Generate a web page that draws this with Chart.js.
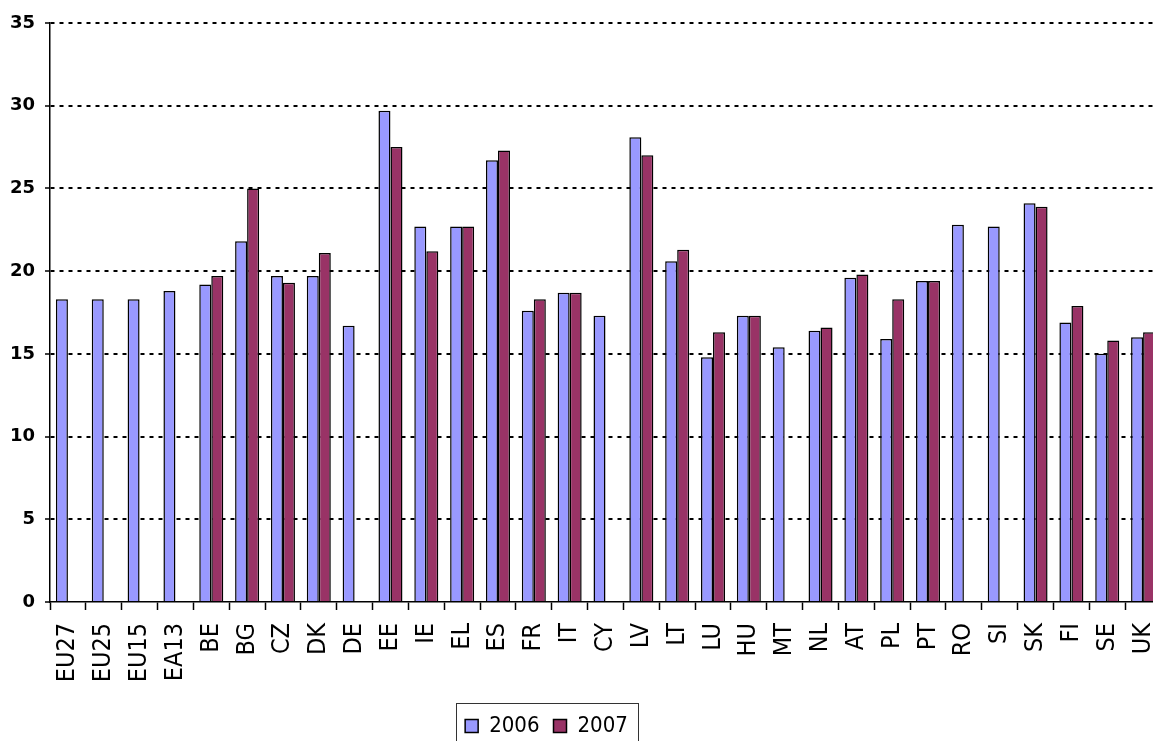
<!DOCTYPE html>
<html>
<head>
<meta charset="utf-8">
<script src="https://cdn.jsdelivr.net/npm/chart.js@4.4.1/dist/chart.umd.min.js"></script>
<style>
  html, body { margin: 0; padding: 0; background: #fff; overflow: hidden; }
  #wrap { width: 1161px; height: 747px; }
</style>
</head>
<body>
<div id="wrap"><canvas id="chart" width="1161" height="747"></canvas></div>
<script>
const countries = ["EU27", "EU25", "EU15", "EA13", "BE", "BG", "CZ", "DK", "DE", "EE", "IE", "EL", "ES", "FR", "IT", "CY",
  "LV", "LT", "LU", "HU", "MT", "NL", "AT", "PL", "PT", "RO", "SI", "SK", "FI", "SE", "UK"];
const values2006 = [18.3, 18.3, 18.3, 18.8, 19.2, 21.8, 19.7, 19.7, 16.7, 29.7, 22.7, 22.7, 26.7, 17.6, 18.7, 17.3,
  28.1, 20.6, 14.8, 17.3, 15.4, 16.4, 19.6, 15.9, 19.4, 22.8, 22.7, 24.1, 16.9, 15.0, 16.0];
const values2007 = [null, null, null, null, 19.7, 25.0, 19.3, 21.1, null, 27.5, 21.2, 22.7, 27.3, 18.3, 18.7, null,
  27.0, 21.3, 16.3, 17.3, null, 16.6, 19.8, 18.3, 19.4, null, null, 23.9, 17.9, 15.8, 16.3];
const seriesNames = ["2006", "2007"];
const yMax = 35;
const yStep = 5;

const labelFont = "'DejaVu Sans Condensed', 'DejaVu Sans', sans-serif";

// moves the legend left a bit and frames it
const legendFrame = {
  id: "legendFrame",
  afterLayout(chart) {
    chart.legend.left -= 34;
    chart.legend.right -= 34;
  },
  afterDraw(chart) {
    const boxes = chart.legend.legendHitBoxes;
    if (!boxes || !boxes.length) return;
    const x0 = Math.round(Math.min(...boxes.map((b) => b.left)) - 9);
    const x1 = Math.round(Math.max(...boxes.map((b) => b.left + b.width)) + 10);
    const y0 = Math.round(boxes[0].top - 12);
    const ctx = chart.ctx;
    ctx.save();
    ctx.strokeStyle = "#333";
    ctx.lineWidth = 1;
    ctx.strokeRect(x0 + 0.5, y0 + 0.5, x1 - x0, 80);
    ctx.restore();
  },
};

new Chart(document.getElementById("chart"), {
  type: "bar",
  data: {
    labels: countries,
    datasets: [
      { label: seriesNames[0], data: values2006, backgroundColor: "#9999FF", borderColor: "#000", borderWidth: 1.5 },
      { label: seriesNames[1], data: values2007, backgroundColor: "#993366", borderColor: "#000", borderWidth: 1.5 },
    ],
  },
  options: {
    responsive: false,
    animation: false,
    devicePixelRatio: 1,
    layout: { padding: { top: 23, left: 0, right: 0, bottom: 0 } },
    datasets: { bar: { barPercentage: 1, categoryPercentage: 0.67 } },
    plugins: {
      tooltip: { enabled: false },
      legend: {
        position: "bottom",
        labels: {
          color: "#000",
          font: { family: labelFont, size: 22 },
          boxWidth: 13,
          boxHeight: 13,
          padding: 14,
        },
      },
    },
    scales: {
      x: {
        afterFit(scale) {
          scale.height = 99;
          scale.paddingLeft = 0;
          scale.paddingRight = 0;
        },
        grid: { display: true, drawOnChartArea: false, offset: true, tickLength: 8, tickColor: "#000", tickWidth: 1.5 },
        border: { color: "#000", width: 1.5 },
        ticks: {
          color: "#000",
          font: { family: labelFont, size: 25 },
          minRotation: 90,
          maxRotation: 90,
          autoSkip: false,
          padding: 13,
        },
      },
      y: {
        min: 0,
        max: yMax,
        afterFit(scale) { scale.width = 50; },
        grid: {
          color: (c) => (c.tick && c.tick.value === 0 ? "rgba(0,0,0,0)" : "#000"),
          lineWidth: 2,
          tickLength: 5,
          tickColor: "#000",
          tickWidth: 1.5,
          tickBorderDash: [],
        },
        border: { color: "#000", width: 1.5, dash: [4, 5] },
        ticks: {
          stepSize: yStep,
          color: "#000",
          padding: 10,
          font: { family: "Verdana, 'DejaVu Sans', sans-serif", size: 18, weight: "bold" },
        },
      },
    },
  },
  plugins: [legendFrame],
});
</script>
</body>
</html>
